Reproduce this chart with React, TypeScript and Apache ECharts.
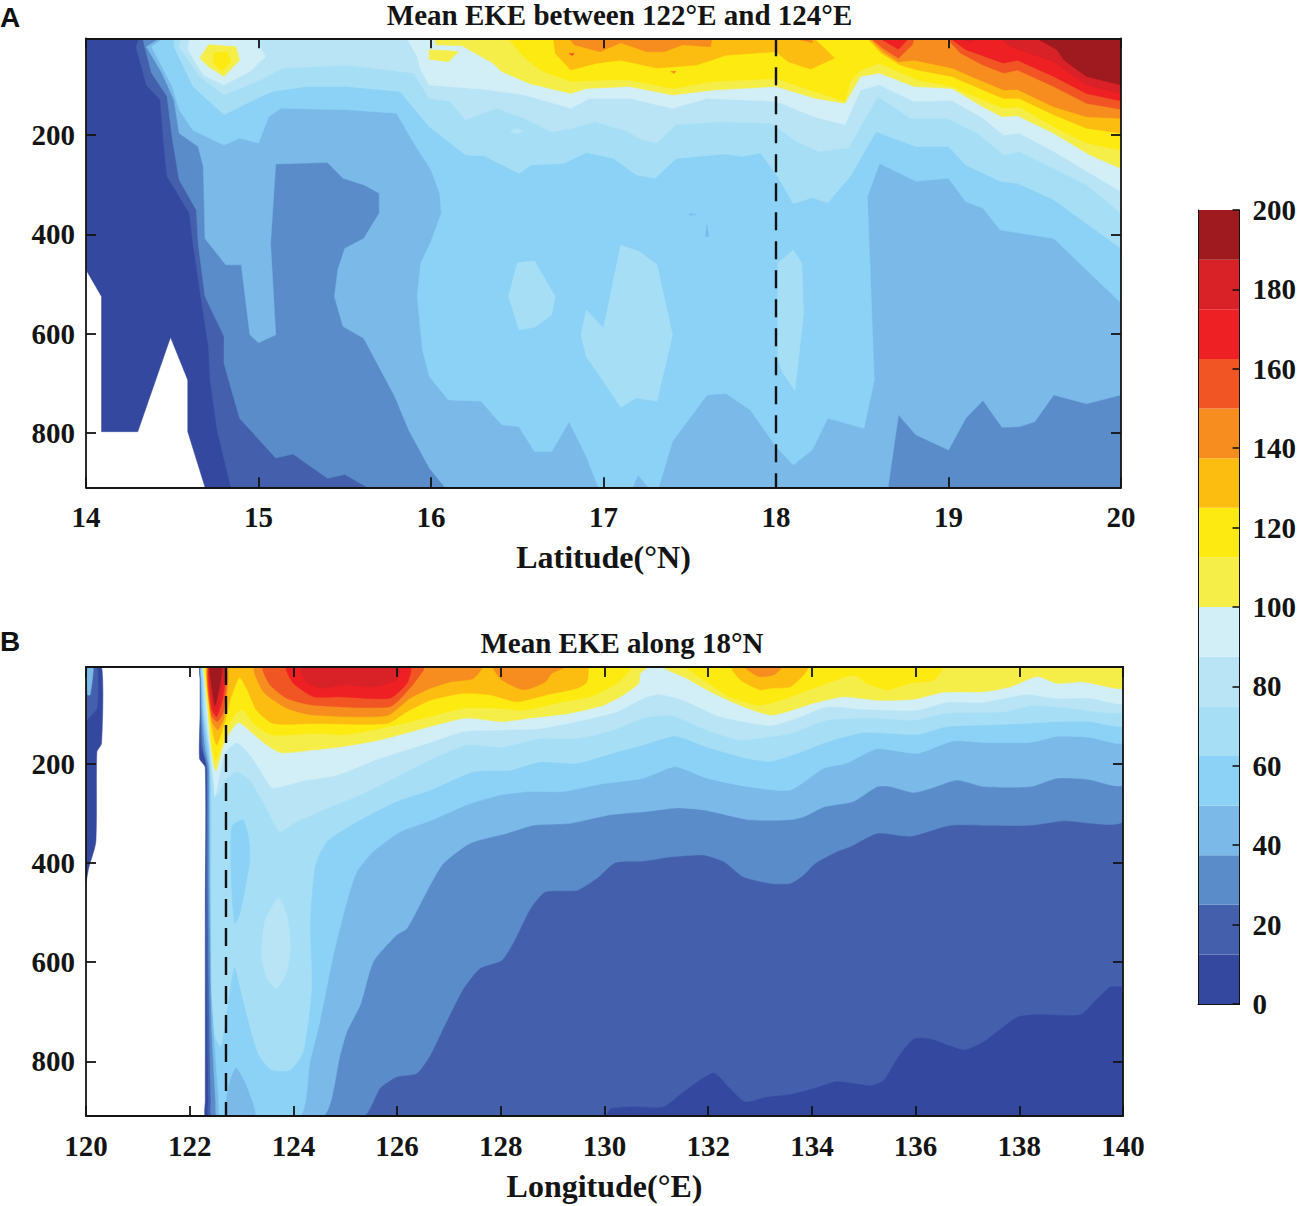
import React, { useEffect, useRef } from 'react';
import * as echarts from 'echarts';

type Pt = [number, number];

// one colour per 12.5 step of the colour bar, low to high
const bandColors = [
  '#3548a0', '#4460ac', '#5a8cc9', '#7ab9e8', '#8bd2f6', '#a6dff5', '#b8e4f5', '#d2eef7',
  '#f6ee48', '#fcea10', '#fdbd10', '#f68d1e', '#f15523', '#ee2024', '#d92128', '#9e1a1f',
];
const bandStep = 12.5;

const depthTicks = [200, 400, 600, 800];
const latRange = [14, 20];
const lonRange = [120, 140];
const latDepthRange = [5, 909];
const lonDepthRange = [5, 910];
const sectionLat = 18;
const sectionLon = 122.7;

// Panel A: filled contours, [latitude, depth], lowest level first
const latFill0: Pt[] = [[14, 5], [20, 5], [20, 909], [14.69, 909], [14.59, 797], [14.59, 693], [14.49, 607], [14.3, 797], [14.09, 797], [14.09, 525], [14, 471]];
const latFill1: Pt[] = [[14.31, 5], [20, 5], [20, 909], [14.84, 909], [14.76, 793], [14.72, 693], [14.71, 626], [14.68, 559], [14.62, 418], [14.6, 357], [14.47, 283], [14.45, 216], [14.43, 129], [14.35, 99], [14.29, 22]];
const latFill2: Pt[] = [[14.33, 5], [20, 5], [20, 909], [15.63, 909], [15.5, 883], [15.4, 891], [15.2, 842], [15.1, 850], [14.89, 770], [14.8, 659], [14.8, 605], [14.69, 525], [14.65, 418], [14.64, 351], [14.54, 290], [14.5, 206], [14.47, 122], [14.38, 75], [14.34, 22]];
const latFill3: Pt[] = [[14.43, 5], [20, 5], [20, 723], [19.8, 741], [19.61, 723], [19.5, 777], [19.41, 787], [19.31, 788], [19.2, 734], [19.1, 770], [19, 834], [18.81, 803], [18.71, 763], [18.65, 909], [16.08, 909], [15.99, 870], [15.87, 793], [15.79, 726], [15.61, 609], [15.49, 585], [15.44, 525], [15.46, 471], [15.5, 428], [15.61, 408], [15.7, 357], [15.7, 317], [15.61, 300], [15.49, 287], [15.4, 255], [15.1, 258], [15.07, 418], [15.1, 602], [15, 618], [14.95, 602], [14.9, 461], [14.81, 461], [14.69, 408], [14.68, 263], [14.65, 223], [14.54, 196], [14.51, 129], [14.44, 75], [14.35, 22]];
const latFill4: Pt[] = [[14.45, 5], [20, 5], [20, 538], [19.76, 458], [19.61, 408], [19.3, 391], [19.2, 347], [19.1, 334], [19, 287], [18.81, 293], [18.6, 257], [18.53, 324], [18.57, 693], [18.51, 790], [18.3, 770], [18.21, 834], [18.1, 864], [18, 827], [17.85, 753], [17.71, 720], [17.6, 723], [17.4, 817], [17.32, 909], [17.26, 909], [17.2, 884], [17.17, 909], [16.97, 909], [16.9, 847], [16.8, 777], [16.7, 837], [16.6, 837], [16.51, 787], [16.41, 783], [16.29, 736], [16.1, 733], [15.99, 686], [15.95, 632], [15.92, 525], [15.94, 458], [16, 414], [16.06, 357], [16.05, 317], [16, 270], [15.9, 216], [15.8, 156], [15.51, 149], [15.13, 146], [15.06, 163], [15, 216], [14.89, 206], [14.8, 220], [14.62, 190], [14.54, 149], [14.5, 102], [14.38, 22]];
const latFill5: Pt[] = [[14.51, 5], [20, 5], [20, 428], [19.61, 330], [19.4, 297], [19.3, 293], [19.1, 260], [19, 223], [18.81, 223], [18.58, 193], [18.43, 283], [18.3, 336], [18.21, 326], [18.1, 338], [18.01, 283], [17.91, 236], [17.8, 243], [17.7, 238], [17.42, 247], [17.3, 287], [17.19, 280], [17.06, 247], [16.9, 235], [16.77, 257], [16.58, 260], [16.51, 277], [16.31, 242], [16.2, 240], [15.99, 183], [15.82, 112], [15.51, 102], [15.28, 102], [15.08, 112], [14.99, 126], [14.8, 159], [14.62, 102], [14.51, 22]];
const latIsland5a: Pt[] = [[16.5, 457], [16.6, 453], [16.72, 525], [16.7, 562], [16.6, 587], [16.51, 592], [16.45, 525]];
const latIsland5b: Pt[] = [[17.1, 421], [17.21, 435], [17.31, 461], [17.4, 602], [17.31, 736], [17.19, 729], [17.1, 748], [16.98, 686], [16.9, 646], [16.87, 602], [16.9, 552], [17, 589]];
const latIsland5c: Pt[] = [[18.1, 431], [18.15, 458], [18.16, 559], [18.11, 714], [18.04, 679], [18.01, 649], [18.01, 458]];
const latSpeck3a: Pt[] = [[17.5, 358], [17.54, 360], [17.5, 361]];
const latSpeck3b: Pt[] = [[17.6, 381], [17.61, 404], [17.59, 404]];
const latFill6: Pt[] = [[14.55, 5], [20, 5], [20, 357], [19.8, 300], [19.63, 270], [19.41, 233], [19.32, 240], [19.17, 196], [18.99, 166], [18.78, 166], [18.59, 122], [18.42, 226], [18.25, 233], [18.12, 213], [17.97, 176], [17.68, 173], [17.42, 179], [17.31, 216], [17.23, 210], [17.12, 190], [16.95, 173], [16.82, 186], [16.7, 193], [16.54, 166], [16.38, 146], [16.2, 169], [16.11, 132], [15.99, 126], [15.9, 75], [15.51, 59], [15.14, 65], [15.01, 89], [14.8, 119], [14.66, 82], [14.54, 22]];
const latSpeck6: Pt[] = [[16.46, 192], [16.5, 186], [16.53, 192], [16.5, 197]];
const latIsland7: Pt[] = [[14.6, 5], [14.98, 5], [15.04, 42], [14.95, 72], [14.8, 99], [14.68, 79], [14.59, 28]];
const latFill7: Pt[] = [[15.86, 5], [20, 5], [20, 314], [19.61, 233], [19.41, 196], [19.32, 200], [19.2, 166], [19.02, 130], [18.8, 132], [18.6, 99], [18.49, 109], [18.4, 179], [18.23, 164], [18, 132], [17.6, 126], [17.4, 146], [17.15, 126], [16.92, 126], [16.81, 146], [16.54, 119], [16.32, 108], [15.99, 99], [15.94, 69], [15.92, 42]];
const latSpot8a: Pt[] = [[14.66, 45], [14.71, 18], [14.87, 22], [14.89, 49], [14.8, 82], [14.71, 62]];
const latSpot8b: Pt[] = [[15.99, 28], [16.1, 30], [16.16, 32], [16.1, 52], [15.99, 47]];
const latFill8: Pt[] = [[16.02, 5], [20, 5], [20, 267], [19.82, 240], [19.61, 196], [19.4, 161], [19.31, 163], [19.2, 143], [19.02, 106], [18.8, 102], [18.6, 75], [18.49, 82], [18.4, 136], [18.23, 126], [18, 102], [17.64, 109], [17.4, 119], [17.15, 102], [16.9, 106], [16.81, 116], [16.57, 96], [16.41, 72], [16.36, 55], [16.18, 20], [16.03, 18]];
const latSpot9: Pt[] = [[14.74, 35], [14.82, 32], [14.84, 52], [14.79, 72], [14.74, 55]];
const latFill9: Pt[] = [[16.45, 5], [20, 5], [20, 230], [19.8, 216], [19.61, 183], [19.41, 143], [19.32, 146], [19.2, 129], [19.02, 102], [18.82, 89], [18.6, 55], [18.49, 69], [18.43, 92], [18.4, 132], [18.22, 112], [18, 86], [17.64, 92], [17.4, 106], [17.15, 89], [17.02, 89], [16.81, 92], [16.65, 72], [16.57, 52], [16.51, 32]];
const latFill10a: Pt[] = [[16.71, 5], [18.22, 5], [18.29, 28], [18.34, 45], [18.2, 67], [18.07, 52], [18, 32], [17.71, 39], [17.54, 59], [17.31, 65], [17.1, 49], [16.96, 55], [16.81, 69], [16.72, 35]];
const latFill10b: Pt[] = [[18.53, 5], [20, 5], [20, 196], [19.8, 186], [19.61, 159], [19.41, 126], [19.32, 126], [19.2, 109], [19.02, 82], [18.82, 69], [18.72, 59], [18.61, 35]];
const latFill11a: Pt[] = [[16.8, 5], [17.63, 5], [17.62, 22], [17.46, 18], [17.35, 32], [17.25, 32], [17.1, 14], [16.98, 32], [16.83, 18]];
const latFill11b: Pt[] = [[18.1, 5], [18.21, 5], [18.21, 14]];
const latFill11c: Pt[] = [[18.54, 5], [20, 5], [20, 166], [19.8, 163], [19.61, 143], [19.4, 108], [19.32, 109], [19.2, 92], [19.02, 65], [18.8, 49], [18.71, 52], [18.62, 32]];
const latSpeck11: Pt[] = [[17.39, 72], [17.42, 71], [17.41, 76]];
const latSpeck12: Pt[] = [[16.8, 36], [16.83, 35], [16.82, 40]];
const latFill12a: Pt[] = [[18.55, 5], [18.8, 5], [18.79, 18], [18.71, 45], [18.62, 25]];
const latFill12b: Pt[] = [[18.99, 5], [20, 5], [20, 148], [19.8, 136], [19.61, 102], [19.4, 69], [19.32, 75], [19.2, 59], [19.07, 35]];
const latFill13a: Pt[] = [[18.6, 5], [18.77, 5], [18.71, 27]];
const latFill13b: Pt[] = [[19.01, 5], [20, 5], [20, 131], [19.8, 116], [19.61, 82], [19.4, 49], [19.32, 55], [19.1, 28]];
const latFill14a: Pt[] = [[19.08, 5], [19.16, 5], [19.12, 14]];
const latFill14b: Pt[] = [[19.3, 5], [20, 5], [20, 116], [19.8, 99], [19.61, 52], [19.36, 22]];
const latFill15: Pt[] = [[19.51, 5], [20, 5], [20, 99], [19.8, 82], [19.67, 49], [19.63, 28]];

// Panel B: filled contours, [longitude, depth]
const lonSliver0: Pt[] = [[120, 5], [120.3, 5], [120.3, 159], [120.21, 176], [120.19, 357], [120.05, 411], [120, 438]];
const lonSliver1: Pt[] = [[120, 5], [120.21, 5], [120.21, 88], [120.05, 108], [120, 115]];
const lonSliver3: Pt[] = [[120.03, 5], [120.14, 5], [120.08, 61], [120.03, 61]];
const lonFill0: Pt[] = [[122.2, 30], [122.2, 5], [122.5, 5], [140, 5], [140, 910], [122.6, 910], [122.3, 910], [122.3, 880], [122.3, 500], [122.3, 207], [122.19, 190], [122.2, 100]];
const lonFill1: Pt[] = [[122.21, 30], [122.21, 5], [122.5, 5], [140, 5], [140, 646], [139.76, 649], [139.5, 673], [139.18, 705], [138.34, 705], [137.96, 710], [137.31, 760], [136.93, 776], [136.28, 754], [135.96, 754], [135.64, 794], [135.38, 838], [135.13, 848], [134.48, 840], [134.03, 854], [133.58, 866], [133.13, 871], [132.71, 881], [132.42, 854], [132.1, 823], [131.52, 861], [131.14, 891], [130.5, 891], [130.11, 895], [130.01, 910], [122.6, 910], [122.36, 910], [122.36, 880], [122.34, 720], [122.31, 451], [122.33, 209], [122.22, 162], [122.21, 102]];
const lonFill2: Pt[] = [[122.21, 30], [122.21, 5], [122.5, 5], [140, 5], [140, 315], [138.85, 315], [138.21, 324], [137.38, 324], [136.67, 324], [135.9, 346], [135.26, 340], [134.74, 367], [134.48, 377], [134.06, 401], [133.84, 424], [133.58, 441], [133.2, 441], [132.68, 428], [132.3, 397], [131.91, 384], [131.33, 387], [130.75, 396], [130.21, 399], [129.85, 431], [129.47, 455], [128.86, 458], [128.57, 492], [128.25, 559], [128.02, 596], [127.6, 612], [127.28, 653], [126.89, 733], [126.64, 787], [126.38, 824], [125.99, 831], [125.67, 854], [125.35, 910], [122.7, 910], [122.42, 910], [122.41, 880], [122.38, 720], [122.35, 451], [122.34, 209], [122.26, 169], [122.22, 115]];
const lonFill3: Pt[] = [[122.22, 30], [122.22, 5], [122.5, 5], [140, 5], [140, 242], [139.31, 231], [138.73, 229], [138.21, 246], [137.31, 246], [136.8, 233], [136.28, 250], [135.96, 258], [135.51, 246], [135.26, 246], [134.8, 276], [134.23, 287], [133.84, 307], [133.58, 313], [132.81, 313], [131.91, 293], [131.4, 289], [130.75, 297], [130.11, 303], [129.34, 320], [128.63, 324], [128.12, 340], [127.41, 360], [126.89, 401], [126.64, 444], [126.19, 532], [125.99, 545], [125.54, 599], [125.29, 686], [125.03, 740], [124.9, 787], [124.58, 910], [122.75, 910], [122.52, 910], [122.5, 880], [122.42, 720], [122.38, 451], [122.37, 209], [122.3, 169], [122.24, 102]];
const lonFill4: Pt[] = [[122.23, 30], [122.23, 5], [122.5, 5], [140, 5], [140, 157], [139.37, 147], [138.73, 145], [138.21, 157], [137.31, 157], [136.73, 154], [136.03, 179], [135.26, 170], [134.67, 199], [134.23, 209], [133.58, 253], [132.75, 246], [131.97, 229], [131.36, 206], [130.75, 229], [129.98, 240], [129.21, 256], [128.57, 256], [127.99, 263], [127.34, 283], [126.64, 315], [126.06, 337], [125.54, 377], [125.22, 418], [125.03, 478], [124.77, 586], [124.51, 720], [124.32, 801], [124.13, 910], [122.8, 910], [122.58, 910], [122.56, 880], [122.46, 720], [122.4, 451], [122.39, 209], [122.34, 169], [122.26, 102]];
const lonLobe3: Pt[] = [[122.71, 910], [122.75, 851], [122.89, 814], [123.07, 844], [123.26, 910]];
const lonFill5: Pt[] = [[122.25, 30], [122.24, 5], [122.5, 5], [140, 5], [140, 123], [139.37, 115], [138.73, 115], [138.08, 119], [137.31, 122], [136.6, 125], [136.03, 141], [135, 137], [134.29, 156], [133.71, 179], [133.2, 195], [132.75, 189], [131.97, 166], [131.36, 144], [130.75, 162], [130.24, 176], [129.47, 199], [128.76, 196], [128.18, 213], [127.47, 216], [126.64, 253], [125.99, 276], [125.22, 317], [124.64, 357], [124.42, 404], [124.32, 518], [124.35, 653], [124.19, 780], [123.94, 817], [123.58, 817], [123.32, 784], [123.03, 676], [122.86, 609], [122.6, 770], [122.49, 750], [122.42, 649], [122.42, 317], [122.41, 229], [122.37, 169], [122.28, 102]];
const lonLobe4: Pt[] = [[123.03, 313], [123.13, 347], [123.16, 394], [122.97, 502], [122.87, 522], [122.81, 448], [122.81, 327]];
const lonFill6: Pt[] = [[122.27, 30], [122.26, 5], [122.5, 5], [140, 5], [140, 95], [138.98, 88], [138.28, 82], [137.7, 95], [136.6, 98], [135.96, 112], [135.13, 108], [134.29, 112], [133.58, 139], [133.2, 145], [132.62, 152], [131.97, 132], [131.3, 103], [130.75, 108], [130.17, 132], [129.47, 149], [128.76, 149], [128.02, 166], [127.34, 162], [126.64, 192], [125.35, 260], [124.64, 290], [124, 320], [123.74, 337], [123.45, 283], [123.16, 233], [122.91, 216], [122.71, 229], [122.52, 263], [122.44, 229], [122.39, 169], [122.3, 102]];
const lonIsland6: Pt[] = [[123.71, 471], [123.87, 505], [123.94, 565], [123.87, 619], [123.68, 653], [123.49, 633], [123.39, 586], [123.45, 518]];
const lonFill7: Pt[] = [[122.28, 30], [122.27, 5], [122.5, 5], [140, 5], [140, 78], [139.37, 68], [138.66, 68], [138.15, 60], [137.31, 76], [136.6, 76], [136.03, 92], [135, 90], [134.29, 85], [133.71, 108], [133.2, 123], [132.23, 105], [131.52, 72], [131.04, 60], [130.75, 68], [130.24, 95], [129.47, 115], [128.76, 129], [128.02, 132], [127.28, 135], [126.64, 157], [125.67, 189], [124.84, 223], [124.26, 233], [123.77, 246], [123.58, 248], [123.2, 187], [122.91, 157], [122.67, 180], [122.49, 266], [122.46, 229], [122.4, 176], [122.33, 102]];
const lonFill8a: Pt[] = [[122.29, 30], [122.28, 5], [122.5, 5], [130.82, 5], [130.69, 18], [130.66, 38], [130.37, 61], [129.98, 82], [129.34, 98], [128.57, 108], [128.02, 115], [127.34, 108], [126.64, 125], [125.67, 152], [124.9, 166], [124.39, 172], [123.77, 178], [123.49, 162], [123.23, 140], [122.94, 117], [122.68, 154], [122.5, 214], [122.41, 169], [122.36, 102]];
const lonFill8b: Pt[] = [[131.14, 5], [140, 5], [140, 48], [139.24, 35], [138.73, 38], [138.34, 24], [137.83, 45], [137.31, 55], [136.54, 56], [135.96, 70], [135.26, 72], [134.61, 65], [134.03, 78], [133.52, 95], [133.2, 102], [132.68, 85], [132.1, 58], [131.59, 28]];
const lonSpot7: Pt[] = [[138.28, 5], [138.4, 5], [138.34, 8]];
const lonFill9a: Pt[] = [[122.31, 30], [122.3, 5], [122.5, 5], [130.5, 5], [130.24, 38], [129.72, 65], [129.21, 75], [128.44, 92], [127.92, 88], [127.28, 88], [126.64, 105], [125.99, 122], [125.03, 141], [124.39, 139], [123.58, 142], [123.23, 119], [123.03, 92], [122.91, 96], [122.71, 130], [122.5, 194], [122.38, 115]];
const lonFill9b: Pt[] = [[131.59, 5], [136.51, 5], [136.35, 31], [135.9, 38], [135.45, 51], [135.06, 38], [134.8, 21], [134.03, 48], [133.52, 68], [133.2, 78], [132.94, 82], [132.42, 65], [131.97, 35]];
const lonFill10a: Pt[] = [[122.34, 30], [122.33, 5], [122.55, 5], [129.66, 5], [129.66, 35], [129.47, 48], [128.89, 61], [128.31, 75], [127.79, 61], [127.28, 58], [126.64, 72], [126.19, 95], [125.8, 119], [124.39, 119], [123.61, 119], [123.29, 92], [123.11, 51], [122.96, 26], [122.79, 68], [122.68, 115], [122.52, 162], [122.42, 122]];
const lonFill10b: Pt[] = [[132.46, 5], [133.92, 5], [133.84, 21], [133.58, 45], [133.2, 48], [133, 51], [132.62, 31]];
const lonFill11a: Pt[] = [[122.34, 5], [122.73, 5], [122.66, 108], [122.54, 132], [122.42, 112]];
const lonFill11b: Pt[] = [[123.26, 5], [127.63, 5], [127.47, 28], [127.02, 35], [126.64, 48], [126.25, 68], [125.8, 103], [124.39, 102], [123.87, 88], [123.42, 55]];
const lonFill11c: Pt[] = [[127.86, 5], [129.24, 5], [128.98, 18], [128.86, 35], [128.44, 51], [128.02, 31]];
const lonFill11d: Pt[] = [[132.71, 5], [133.42, 5], [133.26, 21], [132.97, 24]];
const lonFill12a: Pt[] = [[122.35, 5], [122.7, 5], [122.65, 95], [122.53, 115], [122.42, 102]];
const lonFill12b: Pt[] = [[123.42, 5], [126.51, 5], [126.51, 11], [126.22, 51], [125.86, 85], [124.39, 82], [123.87, 68], [123.55, 41]];
const lonFill13a: Pt[] = [[122.37, 5], [122.68, 5], [122.64, 68], [122.52, 105], [122.42, 88]];
const lonFill13b: Pt[] = [[123.87, 5], [126.25, 5], [126.19, 38], [125.86, 68], [124.9, 65], [124.39, 65], [124, 38]];
const lonFill14a: Pt[] = [[122.38, 5], [122.66, 5], [122.6, 61], [122.51, 95], [122.42, 68]];
const lonFill14b: Pt[] = [[124.16, 5], [126.04, 5], [125.99, 31], [125.54, 45], [124.96, 41], [124.58, 48], [124.26, 38]];
const lonFill15: Pt[] = [[122.39, 5], [122.62, 5], [122.57, 48], [122.49, 82], [122.42, 41]];

// [band index, outline], painted in this order
const latFills: [number, Pt[]][] = [
  [0, latFill0], [1, latFill1], [2, latFill2], [3, latFill3], [4, latFill4], [5, latFill5],
  [5, latIsland5a], [5, latIsland5b], [5, latIsland5c], [3, latSpeck3a], [3, latSpeck3b],
  [6, latFill6], [6, latSpeck6], [7, latIsland7], [7, latFill7], [8, latSpot8a], [8, latSpot8b],
  [8, latFill8], [9, latSpot9], [9, latFill9], [10, latFill10a], [10, latFill10b], [11, latFill11a],
  [11, latFill11b], [11, latFill11c], [11, latSpeck11], [12, latSpeck12], [12, latFill12a], [12, latFill12b],
  [13, latFill13a], [13, latFill13b], [14, latFill14a], [14, latFill14b], [15, latFill15],
];
const lonFills: [number, Pt[]][] = [
  [0, lonSliver0], [1, lonSliver1], [3, lonSliver3], [0, lonFill0], [1, lonFill1], [2, lonFill2],
  [3, lonFill3], [4, lonFill4], [3, lonLobe3], [5, lonFill5], [4, lonLobe4], [6, lonFill6], [6, lonIsland6],
  [7, lonFill7], [8, lonFill8a], [8, lonFill8b], [7, lonSpot7], [9, lonFill9a], [9, lonFill9b],
  [10, lonFill10a], [10, lonFill10b], [11, lonFill11a], [11, lonFill11b], [11, lonFill11c], [11, lonFill11d],
  [12, lonFill12a], [12, lonFill12b], [13, lonFill13a], [13, lonFill13b], [14, lonFill14a], [14, lonFill14b], [15, lonFill15],
];

const serif = '"Liberation Serif", serif';
const ink = '#141414';

const fillSeries = (fills: [number, Pt[]][], index: number, smooth: number) => ({
  type: 'custom',
  xAxisIndex: index,
  yAxisIndex: index,
  clip: true,
  silent: true,
  data: fills.map((_, i) => [i]),
  renderItem: (params: any, api: any) => {
    const [band, outline] = fills[params.dataIndex];
    const color = bandColors[band];
    return {
      type: 'polygon',
      shape: { points: outline.map((p) => api.coord(p)), smooth },
      style: { fill: color, stroke: color, lineWidth: 0.5 },
    };
  },
});

const App: React.FC = () => {
  const chartRef = useRef<HTMLDivElement>(null);

  useEffect(() => {
    if (!chartRef.current) return;
    const chart = echarts.init(chartRef.current, undefined, { renderer: 'svg' });

    const frame = { show: true, onZero: false, lineStyle: { color: ink, width: 1.8 } };
    const ticks = (customValues?: number[]) => ({
      show: true,
      inside: true,
      length: 10,
      lineStyle: { color: ink, width: 1.8 },
      ...(customValues ? { customValues } : {}),
    });
    const tickFont = { fontFamily: serif, fontWeight: 'bold', fontSize: 29, color: ink };
    const titleFont = { fontFamily: serif, fontWeight: 'bold', fontSize: 29, color: ink };
    const panelFont = { fontFamily: '"Liberation Sans", sans-serif', fontWeight: 'bold', fontSize: 28, color: '#111' };

    const xAxes = (range: number[], interval: number, gridIndex: number, name: string, nameGap: number) => [
      {
        type: 'value', gridIndex, position: 'bottom', min: range[0], max: range[1], interval, z: 5,
        axisLine: frame, axisTick: ticks(), splitLine: { show: false },
        axisLabel: { ...tickFont, margin: 15, hideOverlap: false },
        name, nameLocation: 'middle', nameGap,
        nameTextStyle: { fontFamily: serif, fontWeight: 'bold', fontSize: 32, color: ink },
      },
      {
        type: 'value', gridIndex, position: 'top', min: range[0], max: range[1], interval, z: 5,
        axisLine: frame, axisTick: ticks(), splitLine: { show: false }, axisLabel: { show: false },
      },
    ];
    const yAxes = (range: number[], gridIndex: number) => [
      {
        type: 'value', gridIndex, position: 'left', inverse: true, min: range[0], max: range[1], z: 5,
        axisLine: frame, axisTick: ticks(depthTicks), splitLine: { show: false },
        axisLabel: { ...tickFont, margin: 11, customValues: depthTicks },
      },
      {
        type: 'value', gridIndex, position: 'right', inverse: true, min: range[0], max: range[1], z: 5,
        axisLine: frame, axisTick: ticks(depthTicks), splitLine: { show: false },
        axisLabel: { show: false, customValues: depthTicks },
      },
    ];

    const xs = [...xAxes(latRange, 1, 0, 'Latitude(°N)', 54), ...xAxes(lonRange, 2, 1, 'Longitude(°E)', 54)];
    const ys = [...yAxes(latDepthRange, 0), ...yAxes(lonDepthRange, 1)];

    const dashed = { color: '#111', width: 2.4, type: [18, 11] };

    const option = {
      animation: false,
      backgroundColor: '#fff',
      title: [
        { text: 'Mean EKE between 122°E and 124°E', left: 619.5, top: 0, padding: 0, textAlign: 'center', textStyle: titleFont },
        { text: 'Mean EKE along 18°N', left: 622, top: 628, padding: 0, textAlign: 'center', textStyle: titleFont },
        { text: 'A', left: 0, top: 3, padding: 0, textStyle: panelFont },
        { text: 'B', left: 0, top: 627, padding: 0, textStyle: panelFont },
      ],
      grid: [
        { left: 86, top: 38.3, width: 1035, height: 449 },
        { left: 86, top: 667, width: 1037, height: 449 },
        { left: 1198, top: 210, width: 42, height: 794 },
      ],
      xAxis: [
        ...xs,
        { type: 'category', gridIndex: 2, data: [''], position: 'bottom', z: 5, axisLine: { show: true, lineStyle: { color: ink, width: 1 } }, axisTick: { show: false }, axisLabel: { show: false } },
      ],
      yAxis: [
        ...ys,
        {
          type: 'value', gridIndex: 2, position: 'right', min: 0, max: 200, interval: 20, z: 5,
          axisLine: { show: true, onZero: false, lineStyle: { color: ink, width: 1 } },
          axisTick: { show: true, inside: true, length: 7, lineStyle: { color: ink, width: 1.6 } },
          splitLine: { show: false },
          axisLabel: { ...tickFont, margin: 13 },
        },
        {
          type: 'value', gridIndex: 2, position: 'left', min: 0, max: 200, interval: 20, z: 5,
          axisLine: { show: true, onZero: false, lineStyle: { color: ink, width: 1 } },
          axisTick: { show: false }, splitLine: { show: false }, axisLabel: { show: false },
        },
      ],
      series: [
        fillSeries(latFills, 0, 0),
        fillSeries(lonFills, 2, 0.2),
        {
          type: 'line', xAxisIndex: 0, yAxisIndex: 0, symbol: 'none', z: 4, silent: true,
          data: [[sectionLat, latDepthRange[0]], [sectionLat, latDepthRange[1]]],
          lineStyle: dashed,
        },
        {
          type: 'line', xAxisIndex: 2, yAxisIndex: 2, symbol: 'none', z: 4, silent: true,
          data: [[sectionLon, lonDepthRange[0]], [sectionLon, lonDepthRange[1]]],
          lineStyle: dashed,
        },
        ...bandColors.map((color) => ({
          type: 'bar', xAxisIndex: 4, yAxisIndex: 4, stack: 'bar', barWidth: '100%', silent: true,
          data: [bandStep],
          itemStyle: { color },
        })),
      ],
    };

    chart.setOption(option as any);
    return () => {
      chart.dispose();
    };
  }, []);

  return <div ref={chartRef} style={{ position: 'absolute', left: 0, top: 0, width: 1299, height: 1206 }} />;
};

export default App;
